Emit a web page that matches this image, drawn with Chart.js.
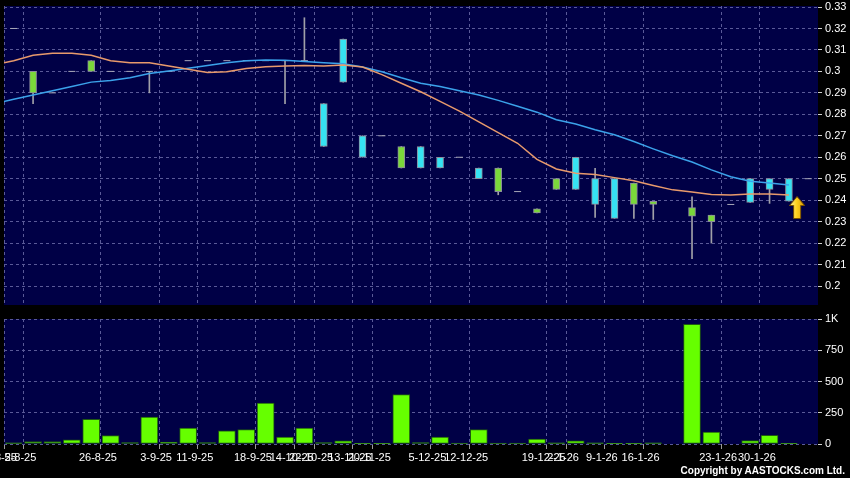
<!DOCTYPE html>
<html>
<head>
<meta charset="utf-8">
<script src="https://cdn.jsdelivr.net/npm/chart.js@4.4.0/dist/chart.umd.min.js"></script>
<style>
  html, body { margin: 0; padding: 0; background: #000; }
  #wrap { position: relative; width: 850px; height: 478px; background: #000; overflow: hidden; }
  #price { position: absolute; left: 0; top: 0; }
  #vol { position: absolute; left: 0; top: 306px; }
  #copy { position: absolute; right: 5px; top: 465px; font: bold 10px "Liberation Sans", Arial, sans-serif; color: #fff; white-space: nowrap; }
</style>
</head>
<body>
<div id="wrap">
  <canvas id="price" width="850" height="306"></canvas>
  <canvas id="vol" width="850" height="172"></canvas>
  <div id="copy">Copyright by AASTOCKS.com Ltd.</div>
</div>
<script>
// one slot per trading day, slot i is centred at x = i + 0.5
var opens  = [0.32, 0.29, 0.29, 0.30, 0.30, 0.30, 0.30, 0.30, 0.30, 0.305, 0.305, 0.305, 0.305, 0.305, 0.305, 0.305,
              0.285, 0.315, 0.27, 0.27, 0.255, 0.265, 0.26, 0.26, 0.255, 0.244, 0.244, 0.234, 0.245, 0.26, 0.25, 0.25,
              0.238, 0.238, null, 0.2325, 0.23, 0.238, 0.25, 0.25, 0.25, 0.25];
var highs  = [0.32, 0.30, 0.29, 0.30, 0.305, 0.30, 0.30, 0.30, 0.30, 0.305, 0.305, 0.305, 0.305, 0.305, 0.305, 0.325,
              0.285, 0.315, 0.27, 0.27, 0.265, 0.265, 0.26, 0.26, 0.255, 0.255, 0.244, 0.236, 0.25, 0.26, 0.2548, 0.25,
              0.248, 0.2395, null, 0.2415, 0.233, 0.238, 0.25, 0.25, 0.25, 0.25];
var lows   = [0.32, 0.285, 0.29, 0.30, 0.30, 0.30, 0.30, 0.29, 0.30, 0.305, 0.305, 0.305, 0.305, 0.305, 0.285, 0.305,
              0.265, 0.295, 0.26, 0.27, 0.255, 0.255, 0.255, 0.26, 0.25, 0.2425, 0.244, 0.234, 0.245, 0.245, 0.232, 0.2315,
              0.2315, 0.231, null, 0.2127, 0.22, 0.238, 0.239, 0.2385, 0.2395, 0.25];
var closes = [0.32, 0.30, 0.29, 0.30, 0.305, 0.30, 0.30, 0.30, 0.30, 0.305, 0.305, 0.305, 0.305, 0.305, 0.305, 0.305,
              0.265, 0.295, 0.26, 0.27, 0.265, 0.255, 0.255, 0.26, 0.25, 0.255, 0.244, 0.236, 0.25, 0.245, 0.238, 0.2315,
              0.248, 0.2395, null, 0.2365, 0.233, 0.238, 0.239, 0.245, 0.2395, 0.25];
var volumes = [10, 20, 20, 33, 198, 68, 12, 215, 15, 128, 12, 105, 115, 328, 55, 128, 12, 25, 3, 3, 395, 12, 55, 8,
               115, 8, 8, 40, 10, 25, 10, 2, 2, 10, 0, 957, 95, 0, 28, 70, 3, 0];

// moving averages, first value belongs to the slot before the window (x = -0.5)
var maShort = [0.303, 0.305, 0.3075, 0.3085, 0.3085, 0.3075, 0.305, 0.304, 0.304, 0.3025, 0.301, 0.2995, 0.2998,
               0.3013, 0.3022, 0.3025, 0.3028, 0.3025, 0.303, 0.302, 0.2985, 0.2945, 0.2905, 0.286, 0.2815, 0.2765,
               0.2715, 0.2665, 0.259, 0.2545, 0.2525, 0.252, 0.2505, 0.249, 0.2468, 0.2448, 0.2438, 0.2426, 0.2424,
               0.2429, 0.2429, 0.2424];
var maLong  = [0.285, 0.287, 0.289, 0.291, 0.293, 0.295, 0.2958, 0.297, 0.299, 0.3002, 0.3015, 0.3027, 0.304,
               0.305, 0.3053, 0.3052, 0.3046, 0.304, 0.3036, 0.302, 0.2998, 0.297, 0.2945, 0.293, 0.291, 0.289,
               0.2865, 0.2838, 0.281, 0.2775, 0.2755, 0.2728, 0.2705, 0.2673, 0.2639, 0.2607, 0.2578, 0.2541, 0.2509,
               0.2488, 0.248, 0.2471];

var slotCount = 42;
var xTickPos = [0, 1, 5, 8, 10, 13, 15, 16, 18, 19, 22, 24, 28, 29, 31, 33, 37, 39];
var xTickLabels = ['1-8-25', '5-8-25', '26-8-25', '3-9-25', '11-9-25', '18-9-25', '14-10-25', '22-10-25',
                   '13-11-25', '20-11-25', '5-12-25', '12-12-25', '19-12-25', '2-1-26', '9-1-26', '16-1-26',
                   '23-1-26', '30-1-26'];
var priceTicks = [0.20, 0.21, 0.22, 0.23, 0.24, 0.25, 0.26, 0.27, 0.28, 0.29, 0.30, 0.31, 0.32, 0.33];
var volTicks = [0, 250, 500, 750, 1000];
var signals = [{ x: 40.92, y: 0.2366 }];

Chart.defaults.font.family = '"Liberation Sans", Arial, sans-serif';
Chart.defaults.font.size = 11;
Chart.defaults.color = '#ffffff';

var GRID = '#5a5a98';
var UP = '#7ad83a', DOWN = '#36e2f2';

// split candles into bodies, wicks and dojis
var bodies = [], bodyColors = [], wicks = [], dojis = [];
for (var i = 0; i < opens.length; i++) {
  if (opens[i] === null) continue;
  var x = i + 0.5;
  if (highs[i] > lows[i]) wicks.push({ x: x, y: [lows[i], highs[i]] });
  if (opens[i] === closes[i]) {
    dojis.push({ x: x, y: opens[i] });
  } else {
    bodies.push({ x: x, y: [opens[i], closes[i]] });
    bodyColors.push(closes[i] > opens[i] ? UP : DOWN);
  }
}
var shortPts = maShort.map(function (v, k) { return { x: k - 0.5, y: v }; });
var longPts = maLong.map(function (v, k) { return { x: k - 0.5, y: v }; });
var volPts = volumes.map(function (v, k) { return { x: k + 0.5, y: v }; });

function makeArrow() {
  var c = document.createElement('canvas');
  c.width = 16; c.height = 23;
  var g = c.getContext('2d');
  var grad = g.createLinearGradient(0, 0, 16, 0);
  grad.addColorStop(0, '#fff4b0');
  grad.addColorStop(0.45, '#ffd420');
  grad.addColorStop(1, '#d89600');
  g.beginPath();
  g.moveTo(8, 0.5); g.lineTo(15.5, 9.5); g.lineTo(11.5, 9.5); g.lineTo(11.5, 22.5);
  g.lineTo(4.5, 22.5); g.lineTo(4.5, 9.5); g.lineTo(0.5, 9.5); g.closePath();
  g.fillStyle = grad; g.fill();
  g.strokeStyle = '#7a5200'; g.lineWidth = 1; g.stroke();
  return c;
}

var panelBg = {
  id: 'panelBg',
  beforeDraw: function (chart) {
    var a = chart.chartArea, ctx = chart.ctx;
    ctx.save();
    ctx.fillStyle = '#000046';
    ctx.fillRect(a.left, a.top, a.right - a.left, a.bottom - a.top);
    ctx.restore();
  }
};

function xAxis(showLabels) {
  return {
    type: 'linear', min: 0, max: slotCount, offset: false,
    afterBuildTicks: function (s) { s.ticks = xTickPos.map(function (v) { return { value: v }; }); },
    afterFit: function (s) { s.paddingLeft = 0; s.paddingRight = 0; s.height = showLabels ? 34 : 0; },
    grid: { offset: false, color: GRID, drawTicks: showLabels, tickLength: 5, tickColor: '#9a9a9a', tickBorderDash: [] },
    border: { display: false, dash: [3, 3] },
    ticks: {
      display: showLabels, autoSkip: false, maxRotation: 0, padding: 2, labelOffset: -3, color: '#fff',
      callback: function (v, idx) { return xTickLabels[idx]; }
    }
  };
}

function yAxis(min, max, ticks, fmt) {
  return {
    type: 'linear', position: 'right', min: min, max: max, stacked: false, beginAtZero: false,
    afterBuildTicks: function (s) { s.ticks = ticks.map(function (v) { return { value: v }; }); },
    afterFit: function (s) { s.width = 32; s.paddingTop = 0; s.paddingBottom = 0; },
    grid: { color: GRID, drawTicks: true, tickLength: 4, tickColor: '#d0d0d0', tickBorderDash: [] },
    border: { display: false, dash: [3, 3] },
    ticks: { padding: 3, color: '#fff', callback: fmt }
  };
}

new Chart(document.getElementById('price'), {
  type: 'bar',
  data: {
    datasets: [
      { type: 'line', data: signals, showLine: false, pointStyle: makeArrow(), pointRadius: 10, order: 0 },
      { type: 'line', data: shortPts, borderColor: '#e89a6c', borderWidth: 1.5, pointRadius: 0, order: 1 },
      { type: 'line', data: longPts, borderColor: '#3ba2ea', borderWidth: 1.5, pointRadius: 0, order: 2 },
      { type: 'line', data: dojis, showLine: false, pointStyle: 'line', pointRadius: 3.5,
        borderColor: '#a8a8b8', borderWidth: 1, order: 3 },
      { type: 'bar', data: bodies, stack: 'c', backgroundColor: bodyColors, borderColor: '#8c8c9c',
        borderWidth: 1, borderSkipped: false, barThickness: 7, order: 4 },
      { type: 'bar', data: wicks, stack: 'c', backgroundColor: '#a0a0a8', borderWidth: 0,
        barThickness: 1, order: 5 }
    ]
  },
  options: {
    responsive: false, animation: false,
    layout: { autoPadding: false, padding: { left: 4, top: 6, bottom: 1, right: 0 } },
    plugins: { legend: { display: false }, tooltip: { enabled: false } },
    scales: {
      x: xAxis(false),
      y: yAxis(0.19115, 0.33047, priceTicks, function (v) { return String(Math.round(v * 100) / 100); })
    }
  },
  plugins: [panelBg]
});

new Chart(document.getElementById('vol'), {
  type: 'bar',
  data: {
    datasets: [
      { data: volPts, backgroundColor: '#66ff00', borderColor: '#1f5a10', borderWidth: 1,
        borderSkipped: false, barThickness: 17 }
    ]
  },
  options: {
    responsive: false, animation: false,
    layout: { autoPadding: false, padding: { left: 4, top: 13, bottom: 0, right: 0 } },
    plugins: { legend: { display: false }, tooltip: { enabled: false } },
    scales: {
      x: xAxis(true),
      y: yAxis(0, 1000, volTicks, function (v) { return v >= 1000 ? (v / 1000) + 'K' : String(v); })
    }
  },
  plugins: [panelBg]
});
</script>
</body>
</html>
